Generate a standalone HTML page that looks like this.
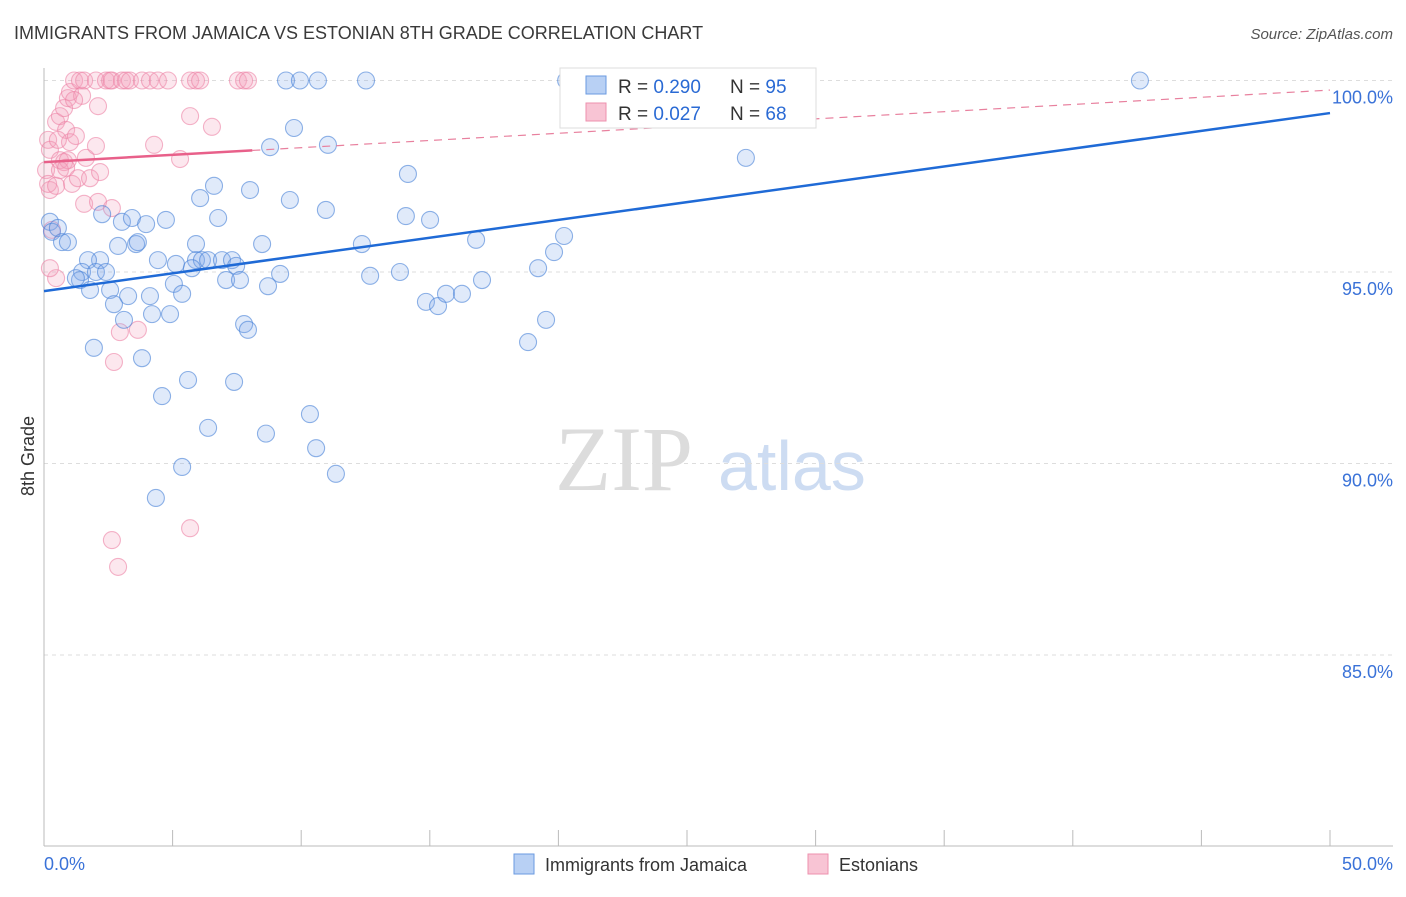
<!DOCTYPE html>
<html><head><meta charset="utf-8"><style>
body{margin:0;background:#fff;font-family:"Liberation Sans",sans-serif}
</style></head><body>
<svg id="c" width="1406" height="892" xmlns="http://www.w3.org/2000/svg">
<text x="14" y="39" font-size="18" fill="#3a3a3a">IMMIGRANTS FROM JAMAICA VS ESTONIAN 8TH GRADE CORRELATION CHART</text>
<text x="1393" y="39" font-size="15" fill="#555" font-style="italic" text-anchor="end">Source: ZipAtlas.com</text>
<text x="555" y="490" font-size="92" fill="#dcdcdc" font-family="Liberation Serif,serif">ZIP</text>
<text x="718" y="490" font-size="70" fill="#cddcf2">atlas</text>
<text transform="translate(34,456) rotate(-90)" font-size="18" fill="#333" text-anchor="middle">8th Grade</text>
<g id="grid"></g><g id="pts"></g><g id="lines"></g>
<g>
<rect x="560" y="68" width="256" height="60" fill="#fff" stroke="#ddd"/>
<rect x="586" y="76" width="20" height="18" fill="#b8d0f4" stroke="#6a9ae0"/>
<rect x="586" y="103" width="20" height="18" fill="#f8c4d4" stroke="#ee90ae"/>
<text x="618" y="93" font-size="19" fill="#333">R = <tspan fill="#2a6ad4">0.290</tspan></text>
<text x="730" y="93" font-size="19" fill="#333">N = <tspan fill="#2a6ad4">95</tspan></text>
<text x="618" y="120" font-size="19" fill="#333">R = <tspan fill="#2a6ad4">0.027</tspan></text>
<text x="730" y="120" font-size="19" fill="#333">N = <tspan fill="#2a6ad4">68</tspan></text>
</g>
<g>
<rect x="514" y="854" width="20" height="20" fill="#b8d0f4" stroke="#6a9ae0"/>
<text x="545" y="871" font-size="18" fill="#333">Immigrants from Jamaica</text>
<rect x="808" y="854" width="20" height="20" fill="#f8c4d4" stroke="#ee90ae"/>
<text x="839" y="871" font-size="18" fill="#333">Estonians</text>
</g>
</svg>
<script>
const yTicks=[85,90,95,100];
const yTickLabels=["85.0%","90.0%","95.0%","100.0%"];
const xTicks=[0,5,10,15,20,25,30,35,40,45,50];
const xEdgeLabels=["0.0%","50.0%"];
const blueX=[.23,.31,.54,.70,.93,2.18,1.71,1.48,1.40,1.24,2.02,2.41,1.79,2.57,2.26,2.88,3.03,3.42,3.58,3.65,3.97,4.74,4.43,5.13,5.91,5.91,6.14,5.75,6.38,6.92,7.31,7.47,7.08,7.62,5.05,5.37,4.12,3.27,2.72,3.11,4.20,4.90,7.78,7.93,1.94,3.81,5.60,4.59,7.39,6.38,8.63,5.37,4.35,10.34,10.58,11.35,6.07,6.61,6.77,8.01,8.48,9.18,8.71,9.56,9.72,8.79,11.04,10.96,12.36,12.68,13.84,14.07,14.15,15.01,14.85,15.32,15.63,16.25,16.80,17.03,18.82,19.21,19.52,19.83,20.22,9.41,9.95,10.65,12.52,20.30,25.74,27.29,42.61];
const blueY=[96.31,96.05,96.15,95.78,95.78,95.31,95.31,95.0,94.79,94.84,95.0,95.0,94.53,94.53,96.51,95.68,96.31,96.41,95.73,95.78,96.25,96.36,95.31,95.21,95.73,95.31,95.31,95.10,95.31,95.31,95.31,95.16,94.79,94.79,94.69,94.43,94.37,94.37,94.16,93.75,93.90,93.90,93.64,93.49,93.02,92.75,92.18,91.76,92.13,90.93,90.78,89.91,89.10,91.29,90.40,89.73,96.93,97.25,96.41,97.14,95.73,94.95,94.63,96.88,98.76,98.26,98.32,96.62,95.73,94.90,95.0,96.46,97.56,96.36,94.22,94.11,94.43,94.43,95.84,94.79,93.17,95.10,93.75,95.52,95.94,100,100,100,100,100,100,97.98,100];
const pinkX=[.16,.23,.08,.23,.16,.47,.47,.62,.78,.86,1.01,.93,1.01,1.17,1.40,1.48,1.56,1.24,.62,.78,.93,.62,.86,1.09,1.32,1.63,1.79,2.02,2.10,2.18,1.56,2.10,2.64,2.02,2.41,2.57,2.64,3.03,3.19,3.34,3.81,4.12,4.43,4.82,5.68,5.91,6.07,7.54,7.78,7.93,5.68,6.53,4.28,5.29,.47,.23,2.95,3.65,2.72,2.64,2.88,5.68,.31,.54,1.17];
const pinkY=[98.45,98.19,97.66,97.14,97.30,97.25,98.92,99.07,99.28,98.71,98.39,99.54,99.70,100,100,99.60,100,98.55,97.92,97.87,97.92,97.66,97.72,97.30,97.45,97.98,97.45,98.29,99.33,97.61,96.78,96.83,96.67,100,100,100,100,100,100,100,100,100,100,100,100,100,100,100,100,100,99.07,98.79,98.32,97.95,94.84,95.10,93.43,93.49,92.65,88.0,87.30,88.31,96.10,98.45,99.49];
const blueTrend=[94.50,99.15];
const pinkTrend=[97.87,99.75];
const pinkSolidEnd=8.1;
const X=v=>44+v/50*1286, Y=v=>80.5+(100-v)*38.3;
const NS="http://www.w3.org/2000/svg";
function mk(t,a,p){const e=document.createElementNS(NS,t);for(const k in a)e.setAttribute(k,a[k]);p.appendChild(e);return e;}
const g=document.getElementById('grid');
yTicks.forEach((t,i)=>{
 const l=mk('line',{x1:44,x2:1393,y1:Y(t),y2:Y(t),stroke:'#ddd','stroke-dasharray':'4,4'},g);
 
 
 const tx=mk('text',{x:1393,y:Y(t)+23,'font-size':18,fill:'#3a72d8','text-anchor':'end'},g);
 tx.textContent=yTickLabels[i];
 
 
});
const ax=mk('line',{x1:44,x2:44,y1:68,y2:846,stroke:'#bbb'},g);


const bx=mk('line',{x1:44,x2:1393,y1:846,y2:846,stroke:'#bbb'},g);


xTicks.forEach(t=>{
 const l=mk('line',{x1:X(t),x2:X(t),y1:830,y2:846,stroke:'#bbb'},g);
 
 
});
[[0,'start'],[50,'end']].forEach((d,i)=>{
 const tx=mk('text',{x:i?1393:44,y:870,'font-size':18,fill:'#3a72d8','text-anchor':d[1]},g);
 tx.textContent=xEdgeLabels[i];
 
 
});
const p=document.getElementById('pts');
pinkX.forEach((x,i)=>{
 const c=mk('circle',{cx:X(x),cy:Y(pinkY[i]),r:8.5,fill:'rgba(244,160,188,0.25)',stroke:'rgba(236,130,165,0.6)','stroke-width':1.1},p);
 
 
});
blueX.forEach((x,i)=>{
 const c=mk('circle',{cx:X(x),cy:Y(blueY[i]),r:8.5,fill:'rgba(130,172,236,0.25)',stroke:'rgba(70,128,215,0.6)','stroke-width':1.1},p);
 
 
});
const L=document.getElementById('lines');
const pt=v=>pinkTrend[0]+(pinkTrend[1]-pinkTrend[0])*v/50;
let e=mk('line',{x1:X(0),y1:Y(blueTrend[0]),x2:X(50),y2:Y(blueTrend[1]),stroke:'#1f6ad6','stroke-width':2.5},L);


e=mk('line',{x1:X(0),y1:Y(pt(0)),x2:X(pinkSolidEnd),y2:Y(pt(pinkSolidEnd)),stroke:'#e8608a','stroke-width':2.5},L);


e=mk('line',{x1:X(pinkSolidEnd),y1:Y(pt(pinkSolidEnd)),x2:X(50),y2:Y(pt(50)),stroke:'#e8809e','stroke-width':1.2,'stroke-dasharray':'8,6'},L);


</script>
</body></html>
